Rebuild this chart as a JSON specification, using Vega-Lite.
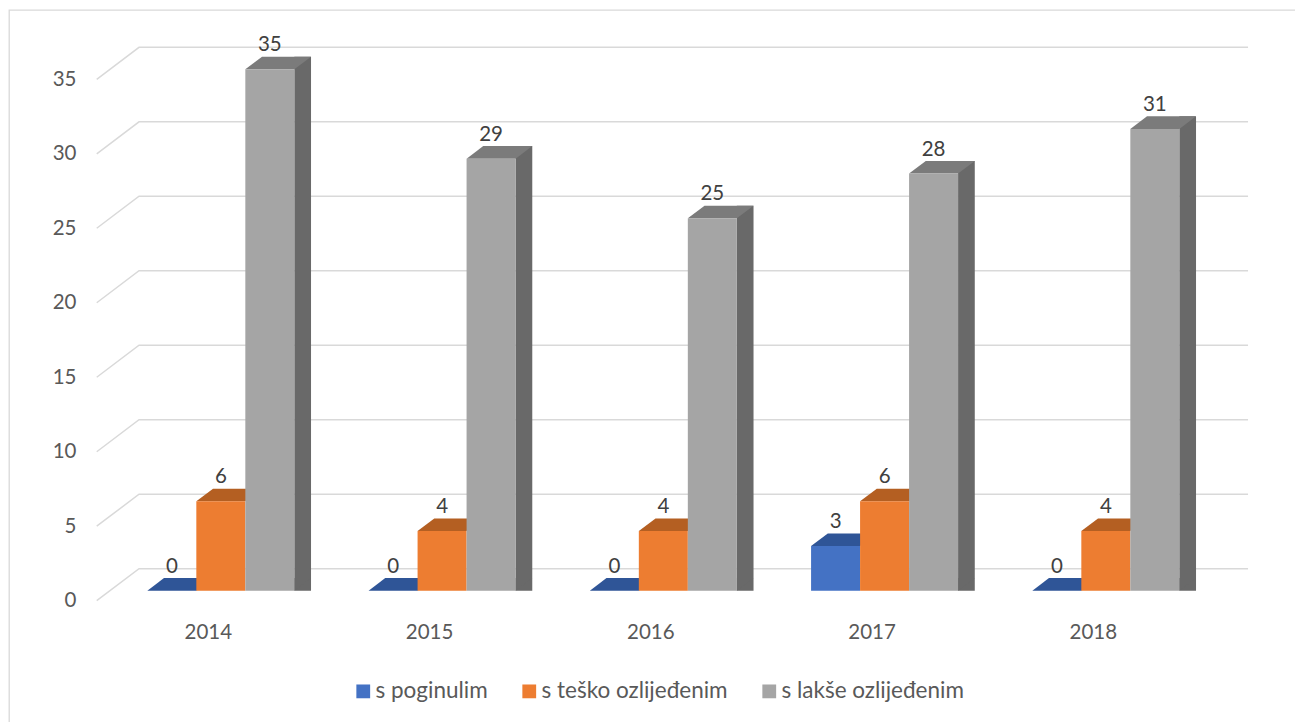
{
"$schema":"https://vega.github.io/schema/vega-lite/v6.json",
"autosize":{"type":"none"},
"padding":{"left":9,"top":10,"right":0,"bottom":0},
"width":1288,
"height":714,
"background":"white",
"view":{"stroke":"#d9d9d9","strokeWidth":1.3,"fill":"white"},
"config":{"font":"Lato"},
"data":{"values":[
{"year":"2014","series":"s poginulim","value":0},{"year":"2014","series":"s teško ozlijeđenim","value":6},{"year":"2014","series":"s lakše ozlijeđenim","value":35},
{"year":"2015","series":"s poginulim","value":0},{"year":"2015","series":"s teško ozlijeđenim","value":4},{"year":"2015","series":"s lakše ozlijeđenim","value":29},
{"year":"2016","series":"s poginulim","value":0},{"year":"2016","series":"s teško ozlijeđenim","value":4},{"year":"2016","series":"s lakše ozlijeđenim","value":25},
{"year":"2017","series":"s poginulim","value":3},{"year":"2017","series":"s teško ozlijeđenim","value":6},{"year":"2017","series":"s lakše ozlijeđenim","value":28},
{"year":"2018","series":"s poginulim","value":0},{"year":"2018","series":"s teško ozlijeđenim","value":4},{"year":"2018","series":"s lakše ozlijeđenim","value":31}
]},
"layer":[
{"data":{"values":[{"tick":0},{"tick":5},{"tick":10},{"tick":15},{"tick":20},{"tick":25},{"tick":30},{"tick":35}]},
 "mark":{"type":"point","shape":"M-124.1,10L-81.8,-22L1027.2,-22","filled":false,"size":4,"stroke":"#d9d9d9","strokeWidth":1.5,"opacity":1,"clip":false},
 "encoding":{
  "x":{"datum":"2014","type":"ordinal","scale":{"domain":["2014","2015","2016","2017","2018"],"range":[101.2,1207.45],"paddingInner":0.3356,"paddingOuter":0.1678},"axis":{"title":null,"labelAngle":0,"labelFontSize":20.5,"labelFont":"Lato","labelColor":"#595959","domain":false,"ticks":false,"grid":false,"labelOffset":-12.5,"labelPadding":0,"offset":-92,"labelBaseline":"middle"}},
  "y":{"field":"tick","type":"quantitative","scale":{"domain":[0,35],"range":[580.7,59.3],"nice":false,"zero":false},"axis":{"title":null,"values":[0,5,10,15,20,25,30,35],"labelFontSize":20.5,"labelFont":"Lato","labelColor":"#595959","domain":false,"ticks":false,"grid":false,"labelOffset":10,"offset":-67,"labelPadding":0}}
 }},
{"transform":[{"filter":"datum.series === 's lakše ozlijeđenim'"}],
 "mark":{"type":"rule","color":"#696969","strokeWidth":16.7,"yOffset":-12.6,"opacity":1,"clip":false},
 "encoding":{"x":{"field":"year","type":"ordinal","bandPosition":1.0568},"y":{"field":"value","type":"quantitative"},"y2":{"datum":0}}},
{"encoding":{
  "x":{"field":"year","type":"ordinal"},
  "xOffset":{"field":"series","type":"nominal","scale":{"domain":["s poginulim","s teško ozlijeđenim","s lakše ozlijeđenim"],"paddingInner":0,"paddingOuter":0}},
  "y":{"field":"value","type":"quantitative"}
 },
 "resolve":{"scale":{"color":"independent"}},
 "layer":[
 {"transform":[{"filter":"datum.series === 's lakše ozlijeđenim'"}],
  "mark":{"type":"point","shape":"M24.5,0L24.5,-12.6L41.2,-12.6Z","filled":true,"size":4,"opacity":1,"clip":false,"color":"#696969"},
  "encoding":{"y":{"datum":0}}},
 {"mark":{"type":"point","shape":"M-24.5,0L24.5,0L41.2,-12.6L-7.8,-12.6Z","filled":true,"size":4,"opacity":1,"clip":false},
  "encoding":{"color":{"field":"series","type":"nominal","legend":null,"scale":{"domain":["s poginulim","s teško ozlijeđenim","s lakše ozlijeđenim"],"range":["#2f5597","#b45f22","#7b7b7b"]}}}},
 {"mark":{"type":"bar","opacity":1,"clip":false},
  "encoding":{"y2":{"datum":0},"color":{"field":"series","type":"nominal","scale":{"domain":["s poginulim","s teško ozlijeđenim","s lakše ozlijeđenim"],"range":["#4472c4","#ed7d31","#a5a5a5"]},
   "legend":{"title":null,"orient":"none","direction":"horizontal","legendX":343,"legendY":670,"symbolType":"square","symbolSize":190,"symbolStrokeWidth":0,"labelFontSize":22.5,"labelFont":"Lato","labelColor":"#595959","columnPadding":30,"labelOffset":1,"columns":3,"labelLimit":400}}}},
 {"mark":{"type":"text","dy":-24,"fontSize":20.5,"font":"Lato","color":"#404040","clip":false},
  "encoding":{"text":{"field":"value","type":"quantitative"}}}
 ]}
]
}
